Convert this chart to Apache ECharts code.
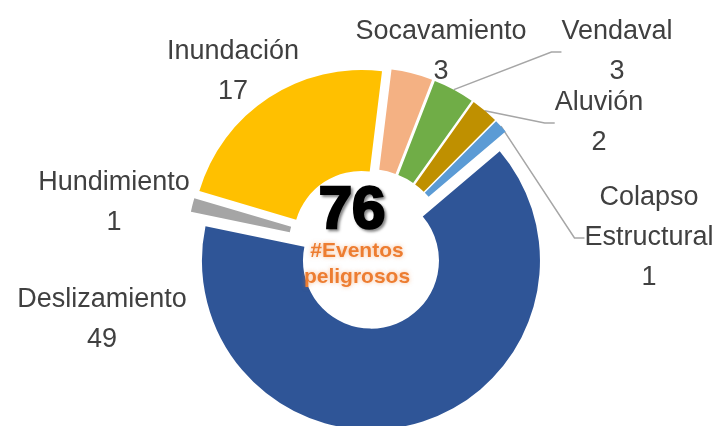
<!DOCTYPE html>
<html>
<head>
<meta charset="utf-8">
<script src="https://cdn.jsdelivr.net/npm/echarts@6/dist/echarts.min.js"></script>
<style>
  html, body { margin: 0; padding: 0; background: #fff; }
  #pieChart { width: 717px; height: 426px; }
</style>
</head>
<body>
<div id="pieChart"></div>
<script>
// eventos peligrosos por tipo (orden en sentido horario desde arriba)
var categories = ['Socavamiento', 'Vendaval', 'Aluvión', 'Colapso Estructural', 'Deslizamiento', 'Hundimiento', 'Inundación']
var values = [3, 3, 2, 1, 49, 1, 17]
var total = 76
var subtitle = '#Eventos\npeligrosos'

var colors = ['#F4B183', '#70AD47', '#BF9000', '#5B9BD5', '#2F5597', '#A5A5A5', '#FFC000']
var showLine = [false, true, true, true, false, false, false]
// centro de cada etiqueta (px)
var labelPos = [[441, 52], [617, 52], [599, 123], [649, 238], [102, 320], [114, 203], [233, 72]]

var labelFont = '"Liberation Sans", Arial, sans-serif'
var pieCenter = [368, 249]
var explode = 12
var startAngle = 83

var sum = values.reduce(function (a, b) { return a + b }, 0)

// cada porción en su propia serie, desplazada hacia afuera (porciones separadas)
var series = []
var acc = 0
categories.forEach(function (name, i) {
  var mid = (startAngle - (acc + values[i] / 2) / sum * 360) * Math.PI / 180
  acc += values[i]
  var data = categories.map(function (n, j) {
    var own = j === i
    return {
      name: n,
      value: values[j],
      itemStyle: { color: own ? colors[j] : 'rgba(0,0,0,0)' },
      label: { show: own },
      labelLine: { show: own && showLine[j] }
    }
  })
  series.push({
    type: 'pie',
    silent: true,
    center: [pieCenter[0] + explode * Math.cos(mid), pieCenter[1] - explode * Math.sin(mid)],
    radius: [68, 169],
    startAngle: startAngle,
    clockwise: true,
    avoidLabelOverlap: false,
    data: data,
    label: {
      position: 'outside',
      fontFamily: labelFont,
      fontSize: 27,
      lineHeight: 40,
      color: '#404040',
      formatter: function (p) {
        return p.name.replace(' ', '\n') + '\n' + p.value
      }
    },
    labelLine: {
      length: 10,
      length2: 10,
      lineStyle: { color: '#A6A6A6', width: 1.5 }
    },
    labelLayout: function (params) {
      var pos = labelPos[params.dataIndex]
      return { x: pos[0], y: pos[1], align: 'center', verticalAlign: 'middle' }
    }
  })
})

var option = {
  animation: false,
  title: [
    {
      text: String(total),
      left: 352,
      top: 181,
      padding: 0,
      textAlign: 'center',
      textStyle: {
        fontFamily: '"Liberation Sans", Arial, sans-serif',
        fontWeight: 900,
        fontSize: 60,
        lineHeight: 60,
        color: '#000',
        textBorderColor: '#000',
        textBorderWidth: 2.5,
        textShadowColor: 'rgba(0,0,0,0.4)',
        textShadowBlur: 3,
        textShadowOffsetX: 2,
        textShadowOffsetY: 2
      }
    },
    {
      text: subtitle,
      left: 357,
      top: 238,
      padding: 0,
      textAlign: 'center',
      textStyle: {
        fontFamily: '"Liberation Sans", Arial, sans-serif',
        fontWeight: 'bold',
        fontSize: 21,
        lineHeight: 26,
        color: '#ED7D31',
        textShadowColor: 'rgba(237,125,49,0.5)',
        textShadowBlur: 4
      }
    }
  ],
  series: series
}

var myPieChart = echarts.init(document.getElementById('pieChart'))
myPieChart.setOption(option)
</script>
</body>
</html>
